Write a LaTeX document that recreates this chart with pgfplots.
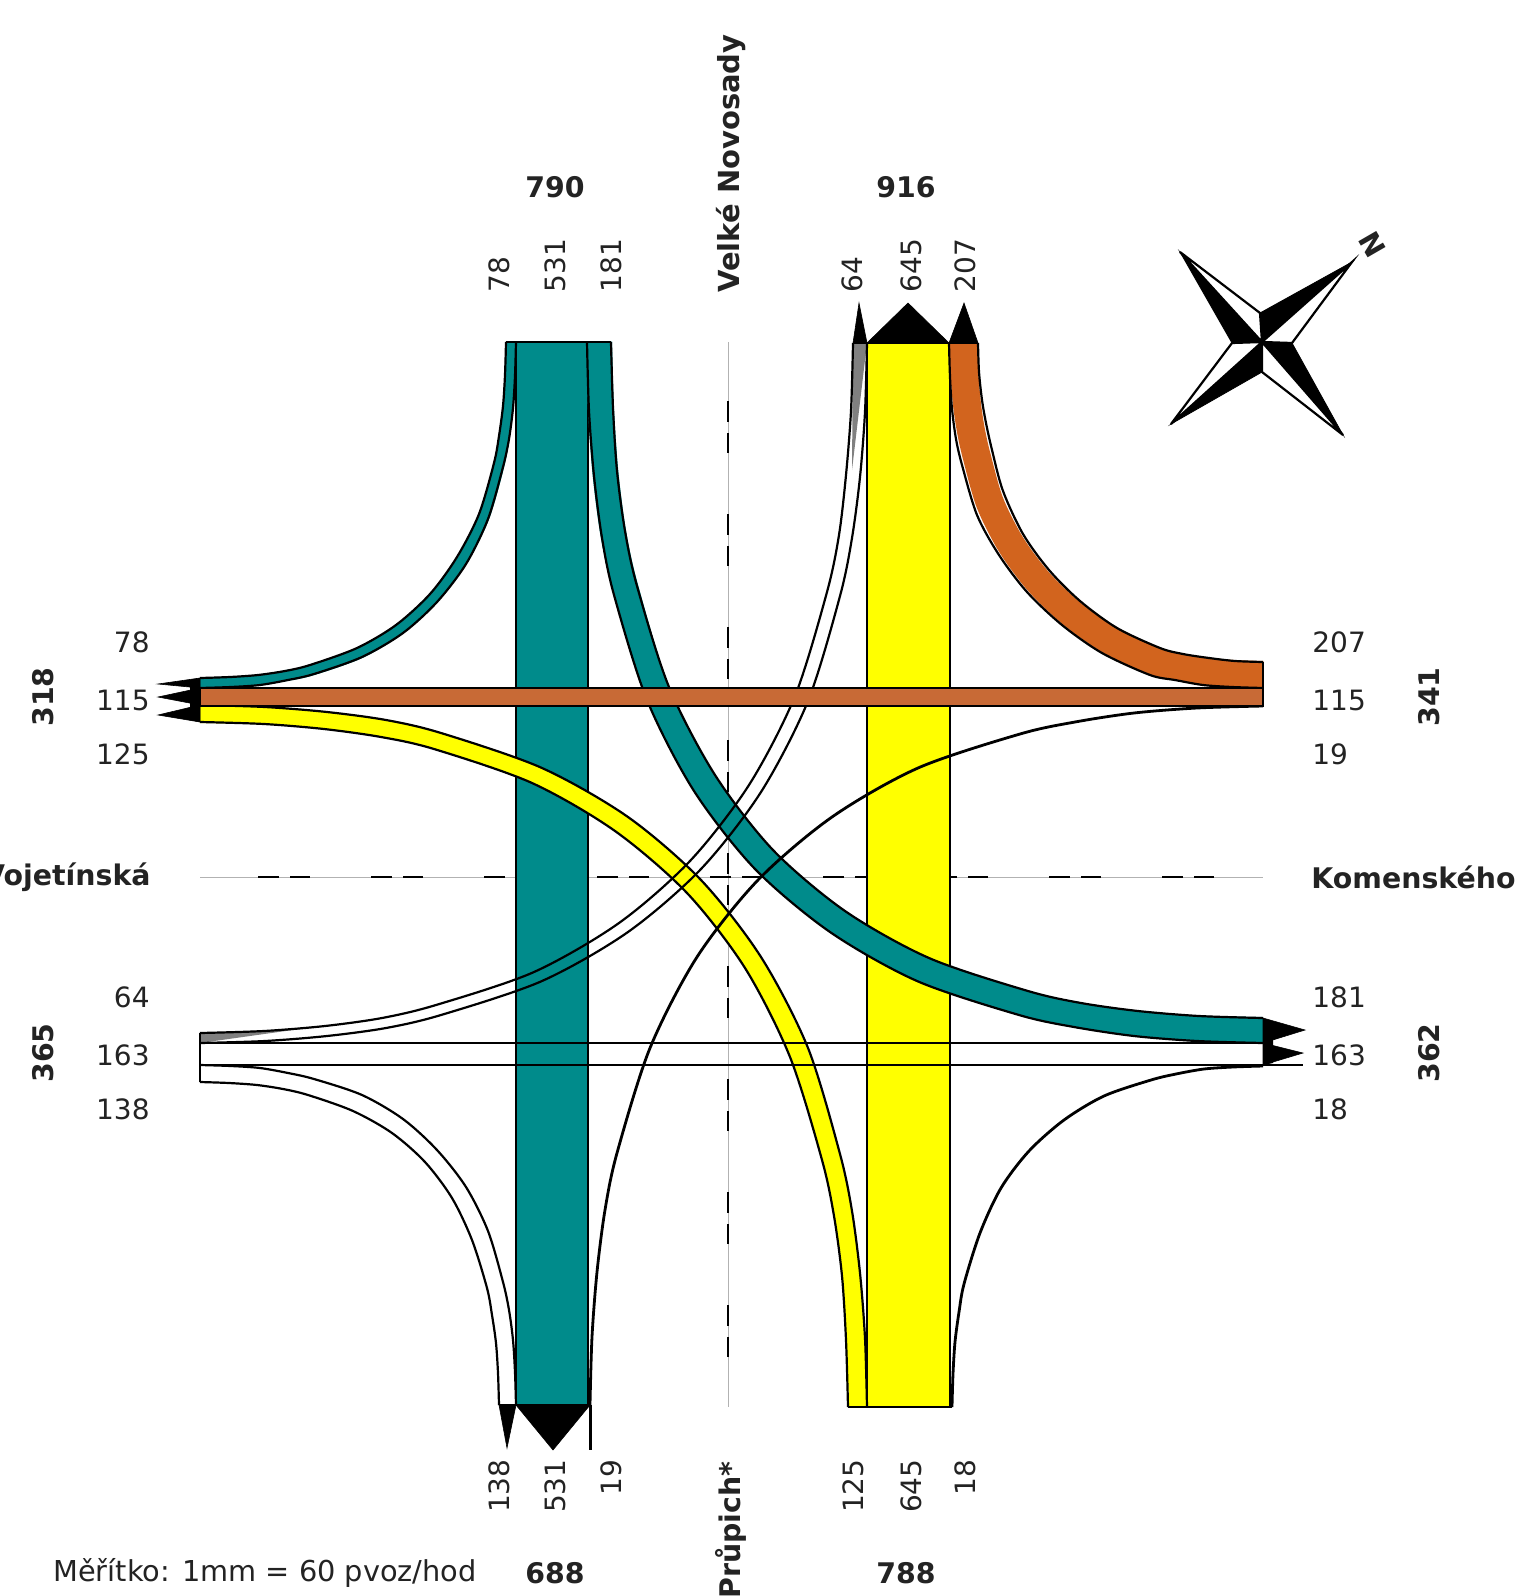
\documentclass[border=0pt]{standalone}
\usepackage{pgfplots}
\pgfplotsset{compat=1.18}
\usepackage{fontspec}
\setmainfont{DejaVu Sans}
\definecolor{tealc}{RGB}{0,139,139}
\definecolor{yelc}{RGB}{255,255,0}
\definecolor{orc}{RGB}{210,100,30}
\definecolor{orh}{RGB}{200,106,54}
\definecolor{txt}{RGB}{35,35,35}
\pgfplotsset{
  edge/.style={black,line width=1.1pt,smooth,mark=none},
  straight/.style={black,line width=1.1pt,mark=none},
  arrowh/.style={fill=black,draw=black,line width=0.3pt,mark=none},
}
\tikzset{
  lab/.style={font=\fontsize{14}{16}\selectfont,text=txt,inner sep=0pt},
  blab/.style={font=\fontsize{14.2}{16}\selectfont\bfseries,text=txt,inner sep=0pt},
}
\begin{document}
\begin{tikzpicture}
\useasboundingbox (0,0) rectangle (761pt,798pt);
\clip (0,0) rectangle (761pt,798pt);
\begin{axis}[
  at={(0,0)},anchor=south west,
  scale only axis,width=761pt,height=798pt,
  xmin=0,xmax=1522,ymin=0,ymax=1596,y dir=reverse,
  hide axis,clip=false,
]
% centre lines
\addplot[gray!60,line width=0.5pt,mark=none] coordinates {(200,877)(1263,877)};
\addplot[gray!60,line width=0.5pt,mark=none] coordinates {(728,342)(728,1407)};
\addplot[black,line width=1.2pt,mark=none,dash pattern=on 10.5pt off 5.5pt on 10pt off 30.5pt] coordinates {(258,877)(1263,877)};
\addplot[black,line width=1.2pt,mark=none,dash pattern=on 10.5pt off 5.5pt on 10pt off 30.5pt] coordinates {(728,401)(728,1407)};
% vertical main flows
\addplot[fill=tealc,draw=black,line width=1.1pt,mark=none] coordinates {(516,342)(588,342)(588,1405)(516,1405)} -- cycle;
\addplot[fill=yelc,draw=black,line width=1.1pt,mark=none] coordinates {(867,343)(950,343)(950,1407)(867,1407)} -- cycle;
% teal 78 (band, then edges)
\addplot[tealc,line width=5.5pt,smooth,mark=none] coordinates {(200,683)(230.5,682)(259,680)(286.5,675.5)(312,670)(360,653)(400,629)(434,598)(462,561)(484,517)(499,465)(504,437.5)(508,407)(510,375.5)(511,342)};
\addplot[edge] coordinates {(200,678)(230,677)(258,675)(285,671)(310,665)(357,648)(396,625)(430,594)(457,557)(479,514)(494,463)(499,436)(503,406)(505,375)(506,342)};
\addplot[edge] coordinates {(200,688)(231,687)(260,685)(288,680)(314,674)(362,657)(403,633)(437,602)(466,564)(488,519)(503,467)(509,439)(513,408)(515,376)(516,342)};
% teal 181
\addplot[tealc,line width=13pt,smooth,mark=none] coordinates {(1263,1030)(1198,1028.5)(1136,1023.5)(1077.5,1015)(1024,1003)(923,970)(838,922)(764,860)(705,783)(658,694)(626,590)(613.5,534.5)(605.5,473.5)(601,409.5)(599,342)};
\addplot[edge] coordinates {(1263,1018)(1199,1016)(1138,1011)(1081,1003)(1028,991)(929,958)(845,911)(773,850)(715,775)(669,687)(637,586)(625,531)(617,471)(613,408)(611,342)};
\addplot[edge] coordinates {(1263,1043)(1197,1041)(1134,1036)(1074,1027)(1019,1015)(917,981)(830,932)(755,869)(694,791)(647,700)(614,595)(602,538)(594,476)(589,411)(587,342)};
% orange 207
\addplot[orc,line width=14pt,smooth,mark=none] coordinates {(1263,675)(1233.5,674)(1206,671.5)(1179,667)(1155,661.5)(1110,640.5)(1071,613)(1038,581)(1011,544.5)(990,503)(977,457.5)(971,431)(967,404.5)(964.5,374.5)(963.5,343)};
\addplot[edge] coordinates {(1263,662)(1235,661)(1209,658)(1183,654)(1160,648)(1117,628)(1080,601)(1049,570)(1023,534)(1003,491)(992,450)(986,423)(982,400)(979,372)(978,343)};
\addplot[edge] coordinates {(1263,688)(1232,687)(1203,685)(1175,680)(1150,675)(1102,653)(1062,625)(1027,592)(999,555)(977,515)(962,465)(956,439)(952,409)(950,377)(949,343)};
% yellow 125
\addplot[yelc,line width=9pt,smooth,mark=none] coordinates {(200,714)(264.5,715.5)(325.5,720.5)(383.5,728.5)(438,741)(537,776)(622,824)(694,887)(753,963)(799,1053)(831,1157)(843,1213.5)(851,1274.5)(855.5,1339)(858,1407)};
\addplot[edge] coordinates {(200,705)(265,707)(327,712)(386,720)(441,733)(542,768)(628,817)(701,880)(761,957)(808,1048)(840,1154)(852,1211)(860,1273)(865,1338)(867,1407)};
\addplot[edge] coordinates {(200,722)(264,724)(324,729)(381,737)(434,749)(532,783)(615,831)(687,893)(745,968)(790,1057)(822,1160)(834,1216)(842,1276)(846,1340)(848,1407)};
% white 64
\addplot[fill=gray,draw=none,mark=none] coordinates {(200,1033)(200,1043)(300,1029)} -- cycle;
\addplot[fill=gray,draw=none,mark=none] coordinates {(853,343)(867,343)(852,470)} -- cycle;
\addplot[edge] coordinates {(200,1033)(264,1031)(325,1026)(382,1018)(436,1005)(534,972)(619,923)(690,861)(749,785)(795,696)(827,592)(839,535)(846,475)(851,411)(853,343)};
\addplot[edge] coordinates {(200,1043)(265,1041)(327,1036)(386,1028)(441,1015)(542,981)(628,932)(701,869)(761,792)(808,701)(840,596)(852,538)(860,477)(865,412)(867,343)};
% white 138
\addplot[edge] coordinates {(200,1065)(231,1066)(260,1068)(288,1073)(314,1079)(362,1095)(403,1119)(437,1150)(466,1187)(488,1231)(503,1282)(509,1310)(513,1340)(515,1372)(516,1405)};
\addplot[edge] coordinates {(200,1082)(229,1083)(257,1085)(283,1089)(308,1095)(353,1111)(392,1133)(425,1162)(452,1198)(472,1240)(487,1288)(492,1315)(496,1343)(498,1373)(499,1405)};
% thin 19 and 18
\addplot[edge,line width=1.4pt] coordinates {(1263,706)(1197,708)(1134,713)(1075,722)(1020,734)(918,768)(832,817)(758,880)(697,957)(650,1048)(617,1153)(605,1210)(597,1272)(592,1337)(590,1405)};
\addplot[edge,line width=1.4pt] coordinates {(1263,1066)(1233,1067)(1204,1069)(1176,1074)(1151,1080)(1104,1096)(1064,1120)(1029,1151)(1001,1188)(980,1233)(964,1284)(959,1312)(955,1342)(953,1374)(952,1407)};
% horizontal flows
\addplot[fill=orh,draw=black,line width=1.1pt,mark=none] coordinates {(200,688)(1263,688)(1263,706)(200,706)} -- cycle;
\addplot[straight] coordinates {(200,1043)(1263,1043)};
\addplot[straight] coordinates {(200,1065)(1303,1065)};
% band ends
\addplot[straight] coordinates {(200,1033)(200,1082)};
\addplot[straight] coordinates {(506,342)(611,342)};
\addplot[straight] coordinates {(853,343)(978,343)};
\addplot[straight] coordinates {(499,1405)(590,1405)};
\addplot[straight] coordinates {(848,1407)(952,1407)};
\addplot[straight] coordinates {(1263,662)(1263,706)};
% arrow heads: top
\addplot[arrowh] coordinates {(853,343)(867,343)(859,303)} -- cycle;
\addplot[arrowh] coordinates {(867,343)(949,343)(908,303)} -- cycle;
\addplot[arrowh] coordinates {(949,343)(978,343)(964,303)} -- cycle;
% bottom
\addplot[arrowh] coordinates {(499,1405)(516,1405)(507,1448)} -- cycle;
\addplot[arrowh] coordinates {(516,1405)(590,1405)(553,1450)} -- cycle;
\addplot[black,line width=1.5pt,mark=none] coordinates {(590,1405)(590,1450)};
% left
\addplot[arrowh] coordinates {(200,678)(200,688)(158,684)} -- cycle;
\addplot[arrowh] coordinates {(200,688)(200,705)(158,697)} -- cycle;
\addplot[arrowh] coordinates {(200,705)(200,722)(158,715)} -- cycle;
\addplot[fill=black,draw=none,mark=none] coordinates {(190,680)(200,678)(200,722)(190,720)} -- cycle;
% right
\addplot[arrowh] coordinates {(1263,1018)(1263,1043)(1305,1030)} -- cycle;
\addplot[arrowh] coordinates {(1263,1043)(1263,1065)(1303,1053)} -- cycle;
\addplot[fill=black,draw=none,mark=none] coordinates {(1263,1018)(1273,1022)(1273,1063)(1263,1065)} -- cycle;
% compass
\addplot[fill=white,draw=black,line width=1.1pt,mark=none] coordinates {(1180,252)(1260,313)(1262,342)} -- cycle;
\addplot[fill=white,draw=black,line width=1.1pt,mark=none] coordinates {(1352,262)(1292,343)(1262,342)} -- cycle;
\addplot[fill=white,draw=black,line width=1.1pt,mark=none] coordinates {(1343,435)(1262,372)(1262,342)} -- cycle;
\addplot[fill=white,draw=black,line width=1.1pt,mark=none] coordinates {(1171,424)(1232,343)(1262,342)} -- cycle;
\addplot[fill=black,draw=black,line width=0.4pt,mark=none] coordinates {(1180,252)(1232,343)(1262,342)} -- cycle;
\addplot[fill=black,draw=black,line width=0.4pt,mark=none] coordinates {(1352,262)(1260,313)(1262,342)} -- cycle;
\addplot[fill=black,draw=black,line width=0.4pt,mark=none] coordinates {(1343,435)(1292,343)(1262,342)} -- cycle;
\addplot[fill=black,draw=black,line width=0.4pt,mark=none] coordinates {(1171,424)(1262,372)(1262,342)} -- cycle;
% labels: top
\node[blab] at (axis cs:555,187) {790};
\node[blab] at (axis cs:906,187) {916};
\node[lab,rotate=90,anchor=west] at (axis cs:499,293) {78};
\node[lab,rotate=90,anchor=west] at (axis cs:555,293) {531};
\node[lab,rotate=90,anchor=west] at (axis cs:611,293) {181};
\node[lab,rotate=90,anchor=west] at (axis cs:852,293) {64};
\node[lab,rotate=90,anchor=west] at (axis cs:911,293) {645};
\node[lab,rotate=90,anchor=west] at (axis cs:965,293) {207};
\node[blab,rotate=90,anchor=west,font=\fontsize{14.5}{16}\selectfont\bfseries] at (axis cs:731,293) {Velké Novosady};
% bottom
\node[lab,rotate=90,anchor=east] at (axis cs:499,1459) {138};
\node[lab,rotate=90,anchor=east] at (axis cs:555,1459) {531};
\node[lab,rotate=90,anchor=east] at (axis cs:611,1459) {19};
\node[lab,rotate=90,anchor=east] at (axis cs:853,1459) {125};
\node[lab,rotate=90,anchor=east] at (axis cs:911,1459) {645};
\node[lab,rotate=90,anchor=east] at (axis cs:965,1459) {18};
\node[blab,rotate=90,anchor=east] at (axis cs:731,1461) {Průpich*};
\node[blab] at (axis cs:555,1573) {688};
\node[blab] at (axis cs:906,1573) {788};
\node[lab,anchor=west,font=\fontsize{14.4}{16}\selectfont] at (axis cs:53,1573) {Měřítko: 1mm = 60 pvoz/hod};
% left
\node[lab,anchor=east] at (axis cs:150,642) {78};
\node[lab,anchor=east] at (axis cs:150,700) {115};
\node[lab,anchor=east] at (axis cs:150,754) {125};
\node[lab,anchor=east] at (axis cs:150,997) {64};
\node[lab,anchor=east] at (axis cs:150,1055) {163};
\node[lab,anchor=east] at (axis cs:150,1109) {138};
\node[blab,rotate=90] at (axis cs:43,697) {318};
\node[blab,rotate=90] at (axis cs:43,1053) {365};
\node[blab,anchor=east] at (axis cs:151,877) {Vojetínská};
% right
\node[lab,anchor=west] at (axis cs:1312,642) {207};
\node[lab,anchor=west] at (axis cs:1312,700) {115};
\node[lab,anchor=west] at (axis cs:1312,754) {19};
\node[lab,anchor=west] at (axis cs:1312,997) {181};
\node[lab,anchor=west] at (axis cs:1312,1055) {163};
\node[lab,anchor=west] at (axis cs:1312,1109) {18};
\node[blab,rotate=90] at (axis cs:1429,697) {341};
\node[blab,rotate=90] at (axis cs:1429,1053) {362};
\node[blab,anchor=west] at (axis cs:1311,877) {Komenského};
\node[blab,rotate=-60] at (axis cs:1372,245) {N};
\end{axis}
\end{tikzpicture}
\end{document}
